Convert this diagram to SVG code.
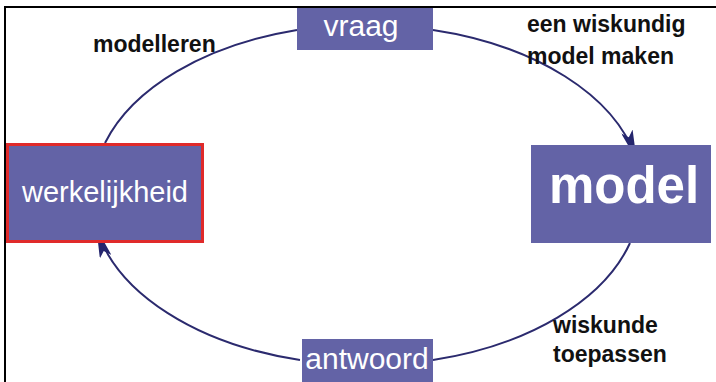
<svg xmlns="http://www.w3.org/2000/svg" width="716" height="382" viewBox="0 0 716 382">
<style>
.box{fill:#6363a6}
.wt{fill:#ffffff;font-family:"Liberation Sans",Arial,sans-serif;text-anchor:middle}
.lbl{fill:#111111;font-family:"Liberation Sans",Arial,sans-serif;font-weight:bold;font-size:23px}
.con{fill:none;stroke:#2b2a6e;stroke-width:2}
</style>
<defs>
<marker id="ah" viewBox="0 0 30 12" refX="28" refY="6" markerWidth="30" markerHeight="12" markerUnits="userSpaceOnUse" orient="auto">
<path d="M0,0 L30,6 L0,12 L6,6 Z" fill="#25266e"/>
</marker>
</defs>
<rect width="716" height="382" fill="#ffffff"/>
<path d="M5,382 V7 H716" fill="none" stroke="#000" stroke-width="2"/>
<g id="connectors">
<path class="con" d="M433,30 A275,167 0 0 1 636,158" marker-end="url(#ah)"/>
<path class="con" d="M630,243 A275,167 0 0 1 433,360"/>
<path class="con" d="M300,360 A275,167 0 0 1 97,230" marker-end="url(#ah)"/>
<path class="con" d="M105,143 A275,167 0 0 1 297,30"/>
</g>
<g id="vraag">
<rect class="box" x="297" y="8" width="136" height="42"/>
<text class="wt" x="361" y="36" font-size="30">vraag</text>
</g>
<g id="model">
<rect class="box" x="531" y="145" width="180" height="98"/>
<text class="wt" x="624" y="203" font-size="51" font-weight="bold">model</text>
</g>
<g id="werkelijkheid">
<rect class="box" x="7.5" y="144.5" width="195" height="97" stroke="#e02a2a" stroke-width="3"/>
<text class="wt" x="105" y="202" font-size="29">werkelijkheid</text>
</g>
<g id="antwoord">
<rect class="box" x="302" y="339" width="131" height="43"/>
<text class="wt" x="367" y="369" font-size="30">antwoord</text>
</g>
<g id="labels">
<text class="lbl" x="93" y="52">modelleren</text>
<text class="lbl" x="527" y="32">een wiskundig</text>
<text class="lbl" x="527" y="64">model maken</text>
<text class="lbl" x="553" y="333">wiskunde</text>
<text class="lbl" x="553" y="362">toepassen</text>
</g>
</svg>
